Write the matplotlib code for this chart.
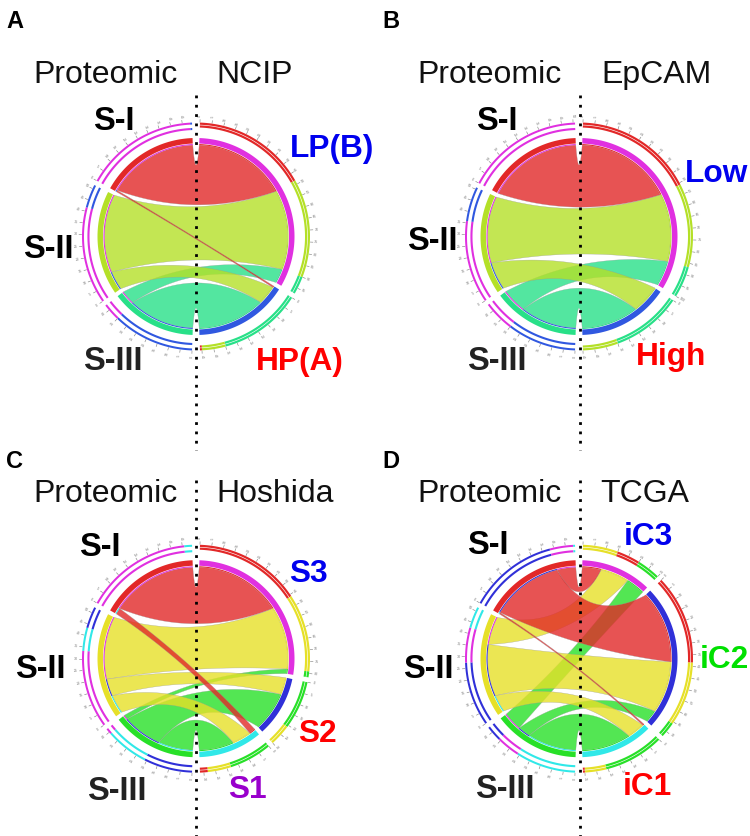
import numpy as np
import matplotlib
matplotlib.use("Agg")
import matplotlib.pyplot as plt
from matplotlib.patches import Polygon

plt.rcParams['font.family'] = ['Liberation Sans', 'DejaVu Sans']

# rows are S-I, S-II, S-III, columns are the right hand groups clockwise
left_names = ["S-I", "S-II", "S-III"]
ncip_groups = ["LP(B)", "HP(A)"]
ncip_values = [[58, 1], [50, 12], [9, 42]]
epcam_groups = ["Low", "High"]
epcam_values = [[61, 0], [43, 18], [16, 36]]
hoshida_groups = ["S3", "S2", "S1"]
hoshida_values = [[55, 0, 4], [40, 11, 12], [3, 25, 22]]
tcga_groups = ["iC3", "iC2", "iC1"]
tcga_values = [[12, 46, 1], [18, 33, 11], [12, 8, 31]]

RED, MAGENTA = "#E22828", "#E030E0"
BLUE1, BLUE2, CYAN = "#3058E0", "#3030D8", "#30E8E8"
LIME, TEAL = "#B4E028", "#28E088"
YELLOW, GREEN = "#E6E028", "#28E028"


def xy(cx, cy, r, deg):
    a = np.radians(deg)
    return cx + r * np.sin(a), cy - r * np.cos(a)


def band(ax, cx, cy, r0, r1, d0, d1, color):
    t = np.linspace(d0, d1, max(int(abs(d1 - d0) * 2), 2))
    x0, y0 = xy(cx, cy, r1, t)
    x1, y1 = xy(cx, cy, r0, t[::-1])
    pts = np.column_stack([np.r_[x0, x1], np.r_[y0, y1]])
    ax.add_patch(Polygon(pts, closed=True, fc=color, ec="none", zorder=3))


def edge(cx, cy, r, d0, d1):
    # quadratic curve, pulled to the centre harder when the ends are far apart
    sep = abs((d1 - d0 + 180) % 360 - 180)
    c = r * 0.58 * (1 - sep / 180)
    mid = np.radians(d0) + np.angle(np.exp(1j * np.radians(d1 - d0))) / 2
    px, py = xy(cx, cy, r, d0)
    qx, qy = xy(cx, cy, r, d1)
    mx, my = xy(cx, cy, c, np.degrees(mid))
    t = np.linspace(0, 1, 60)
    return ((1 - t) ** 2 * px + 2 * t * (1 - t) * mx + t ** 2 * qx,
            (1 - t) ** 2 * py + 2 * t * (1 - t) * my + t ** 2 * qy)


def ribbon(ax, cx, cy, r, l0, l1, r0, r1, color):
    ta = np.linspace(r0, r1, 30)
    tb = np.linspace(l0, l1, 30)
    ax1, ay1 = xy(cx, cy, r, ta)
    ex1, ey1 = edge(cx, cy, r, r1, l0)
    bx1, by1 = xy(cx, cy, r, tb)
    ex2, ey2 = edge(cx, cy, r, l1, r0)
    pts = np.column_stack([np.r_[ax1, ex1, bx1, ex2], np.r_[ay1, ey1, by1, ey2]])
    ax.add_patch(Polygon(pts, closed=True, fc=color, alpha=0.8,
                         ec="#999999", lw=0.25, zorder=2))


def spans(sizes, start, stop, gap=2.5):
    k = (stop - start - gap * (len(sizes) - 1)) / sum(sizes)
    out, pos = [], start
    for s in sizes:
        out.append((pos, pos + s * k))
        pos += s * k + gap
    return out, k


def ticks(ax, cx, cy, d0, d1, k):
    for i, v in enumerate(np.arange(0, (d1 - d0) / k + 0.01, 6)):
        d = d0 + v * k
        x0, y0 = xy(cx, cy, 114.5, d)
        x1, y1 = xy(cx, cy, 117, d)
        ax.plot([x0, x1], [y0, y1], color="#777777", lw=0.4, zorder=1)
        tx, ty = xy(cx, cy, 120.5, d)
        rot = 90 - d if d < 180 else 270 - d
        ax.text(tx, ty, str(i * 5), fontsize=2.6, color="#777777",
                rotation=rot, ha="center", va="center")


def chord(ax, cx, cy, values, left_colors, right_colors):
    vals = np.array(values, dtype=float)
    left_spans, lk = spans(vals.sum(axis=1)[::-1], 182, 358)
    left_spans = left_spans[::-1]
    right_spans, rk = spans(vals.sum(axis=0), 2, 178)
    n_l, n_r = vals.shape

    # where each ribbon sits on its two groups
    l_pos, r_pos = {}, {}
    for i in range(n_l):
        pos = left_spans[i][0]
        for j in range(n_r - 1, -1, -1):
            l_pos[i, j] = (pos, pos + vals[i, j] * lk)
            pos += vals[i, j] * lk
    for j in range(n_r):
        pos = right_spans[j][0]
        for i in range(n_l):
            r_pos[i, j] = (pos, pos + vals[i, j] * rk)
            pos += vals[i, j] * rk

    # S-III first, the red S-I ribbons end up on top
    for i in range(n_l - 1, -1, -1):
        for j in range(n_r):
            if vals[i, j] == 0:
                continue
            ribbon(ax, cx, cy, 91.5, *l_pos[i, j], *r_pos[i, j], left_colors[i])
            band(ax, cx, cy, 91.5, 92.5, *l_pos[i, j], right_colors[j])
            band(ax, cx, cy, 91.5, 92.5, *r_pos[i, j], left_colors[i])

    for i in range(n_l):
        d0, d1 = left_spans[i]
        band(ax, cx, cy, 93, 98.5, d0, d1, left_colors[i])
        ticks(ax, cx, cy, d0, d1, lk)
        pos = d0
        for j in np.argsort(-vals[i], kind="stable"):
            if vals[i, j] == 0:
                continue
            w = vals[i, j] * lk
            band(ax, cx, cy, 106.5, 108.6, pos, pos + w, right_colors[j])
            band(ax, cx, cy, 112, 114, pos, pos + w, right_colors[j])
            pos += w
    for j in range(n_r):
        d0, d1 = right_spans[j]
        band(ax, cx, cy, 93, 98.5, d0, d1, right_colors[j])
        ticks(ax, cx, cy, d0, d1, rk)
        pos = d0
        for i in np.argsort(-vals[:, j], kind="stable"):
            if vals[i, j] == 0:
                continue
            w = vals[i, j] * rk
            band(ax, cx, cy, 109, 111.2, pos, pos + w, left_colors[i])
            band(ax, cx, cy, 111.8, 114, pos, pos + w, left_colors[i])
            pos += w


fig = plt.figure(figsize=(7.5, 8.36), dpi=100)
ax = fig.add_axes([0, 0, 1, 1])
ax.set_xlim(0, 750)
ax.set_ylim(836, 0)
ax.axis("off")

chord(ax, 196, 236.5, ncip_values, [RED, LIME, TEAL], [MAGENTA, BLUE1])
chord(ax, 579, 236.5, epcam_values, [RED, LIME, TEAL], [MAGENTA, BLUE1])
chord(ax, 196, 658.7, hoshida_values, [RED, YELLOW, GREEN], [MAGENTA, BLUE2, CYAN])
chord(ax, 579, 658.7, tcga_values, [RED, YELLOW, GREEN], [MAGENTA, BLUE2, CYAN])

for x, y0, y1 in [(196, 95, 450), (580, 95, 450), (196, 480, 836), (580, 480, 836)]:
    ax.plot([x, x], [y0, y1], color="black", lw=2.0, ls=(0, (1, 2.36)), zorder=5)

for s, x, y in [("A", 14.5, 28), ("B", 391, 28), ("C", 14.5, 468), ("D", 391, 468)]:
    ax.text(x, y, s, fontsize=17, fontweight="bold", ha="center", va="baseline")

for s, x, y in [("Proteomic", 106, 82.7), ("NCIP", 255, 82.7), ("Proteomic", 490, 82.7),
                ("EpCAM", 656, 82.7), ("Proteomic", 106, 502), ("Hoshida", 275, 502),
                ("Proteomic", 490, 502), ("TCGA", 645, 502)]:
    ax.text(x, y, s, fontsize=23, ha="center", va="baseline", color="#111111")

left_spots = [[(114, 122), (48, 249), (113, 362)], [(497, 122), (432, 242), (497, 362)],
              [(100, 547), (40, 670), (117, 792)], [(488, 545), (428, 669), (505, 790)]]
for spots in left_spots:
    for s, (x, y), c in zip(left_names, spots, ["black", "black", "#222222"]):
        ax.text(x, y, s, fontsize=23.5, fontweight="bold", ha="center", va="center", color=c)

group_labels = [(ncip_groups[0], 332.5, 149, "#0000EE"), (ncip_groups[1], 300, 362, "#FF0000"),
                (epcam_groups[0], 717, 174, "#0000EE"), (epcam_groups[1], 671, 357, "#FF0000"),
                (hoshida_groups[0], 308, 574, "#0000EE"), (hoshida_groups[1], 317, 734, "#FF0000"),
                (hoshida_groups[2], 247, 790, "#9900CC"), (tcga_groups[0], 648, 537, "#0000EE"),
                (tcga_groups[1], 724, 660, "#00E000"), (tcga_groups[2], 647, 787, "#FF0000")]
for s, x, y, c in group_labels:
    ax.text(x, y, s, fontsize=22.8, fontweight="bold", ha="center", va="center", color=c)

fig.savefig("out.png", dpi=100)
